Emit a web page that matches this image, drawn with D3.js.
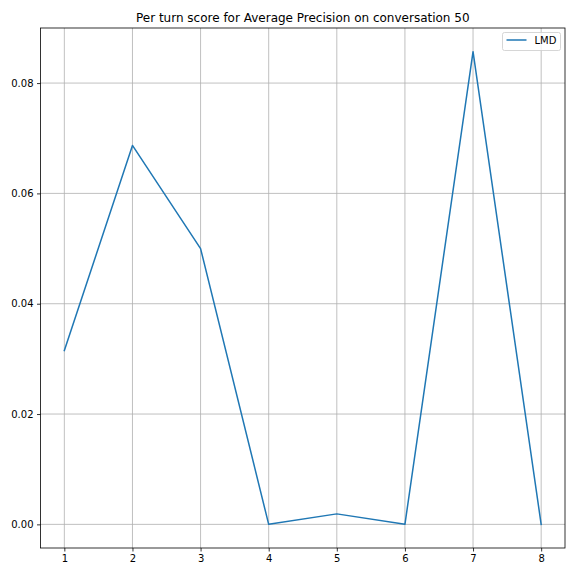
<!DOCTYPE html>
<html><head><meta charset="utf-8">
<script src="https://cdn.jsdelivr.net/npm/d3@7"></script>
<style>body{margin:0;background:#fff;} text{font-family:"DejaVu Sans",sans-serif;}</style>
</head><body>
<svg id="c" width="576" height="576"></svg>
<script>
const turns = [1, 2, 3, 4, 5, 6, 7, 8];
const scores = [0.0315, 0.0687, 0.0500, 0.0, 0.0019, 0.0, 0.0857, 0.0];
const seriesName = "LMD";
const title = "Per turn score for Average Precision on conversation 50";
const yTicks = [0.00, 0.02, 0.04, 0.06, 0.08];

const svg = d3.select("#c");
const L = 40.5, R = 565, T = 28, B = 548;
const xmin = d3.min(turns), xmax = d3.max(turns);
const xm = (xmax - xmin) * 0.05;
const x = d3.scaleLinear().domain([xmin - xm, xmax + xm]).range([L, R]);
const ymin = d3.min(scores), ymax = d3.max(scores);
const ym = (ymax - ymin) * 0.05;
const y = d3.scaleLinear().domain([ymin - ym, ymax + ym]).range([B, T]);

svg.append("rect").attr("x",0).attr("y",0).attr("width",576).attr("height",576).attr("fill","#fff");

// grid
const g = svg.append("g");
g.selectAll(".gx").data(turns).enter().append("line")
  .attr("x1", d=>x(d)).attr("x2", d=>x(d)).attr("y1", T).attr("y2", B)
  .attr("stroke","#b0b0b0").attr("stroke-width",0.8);
g.selectAll(".gy").data(yTicks).enter().append("line")
  .attr("y1", d=>y(d)).attr("y2", d=>y(d)).attr("x1", L).attr("x2", R)
  .attr("stroke","#b0b0b0").attr("stroke-width",0.8);

// line
svg.append("path").datum(turns.map((t,i)=>[t,scores[i]]))
  .attr("fill","none").attr("stroke","#1f77b4").attr("stroke-width",1.5)
  .attr("stroke-linejoin","round").attr("stroke-linecap","square")
  .attr("d", d3.line().x(d=>x(d[0])).y(d=>y(d[1])));

// axes
const xAxis = d3.axisBottom(x).tickValues(turns).tickFormat(d3.format("d")).tickSize(3.5).tickPadding(3.5);
const yAxis = d3.axisLeft(y).tickValues(yTicks).tickFormat(d3.format(".2f")).tickSize(3.5).tickPadding(3.5);
const gx = svg.append("g").attr("transform",`translate(0,${B})`).call(xAxis);
const gy = svg.append("g").attr("transform",`translate(${L},0)`).call(yAxis);
[gx, gy].forEach(a => {
  a.select(".domain").remove();
  a.selectAll("line").attr("stroke","#000").attr("stroke-width",0.8);
  a.selectAll("text").attr("font-size",10).attr("fill","#000").attr("font-family","DejaVu Sans");
});

// frame
svg.append("rect").attr("x",L).attr("y",T).attr("width",R-L).attr("height",B-T)
  .attr("fill","none").attr("stroke","#000").attr("stroke-width",0.8);

// title
svg.append("text").attr("x",(L+R)/2).attr("y",T-6.5).attr("text-anchor","middle")
  .attr("font-size",12).attr("fill","#000").text(title);

// legend
const lg = svg.append("g");
lg.append("rect").attr("x",502.5).attr("y",32.5).attr("width",58).attr("height",18).attr("rx",2)
  .attr("fill","#fff").attr("fill-opacity",0.8).attr("stroke","#cccccc").attr("stroke-width",0.8);
lg.append("line").attr("x1",506.5).attr("x2",526.5).attr("y1",40).attr("y2",40)
  .attr("stroke","#1f77b4").attr("stroke-width",1.5);
lg.append("text").attr("x",534.5).attr("y",43.5).attr("font-size",10).attr("fill","#000").text(seriesName);
</script>
</body></html>
